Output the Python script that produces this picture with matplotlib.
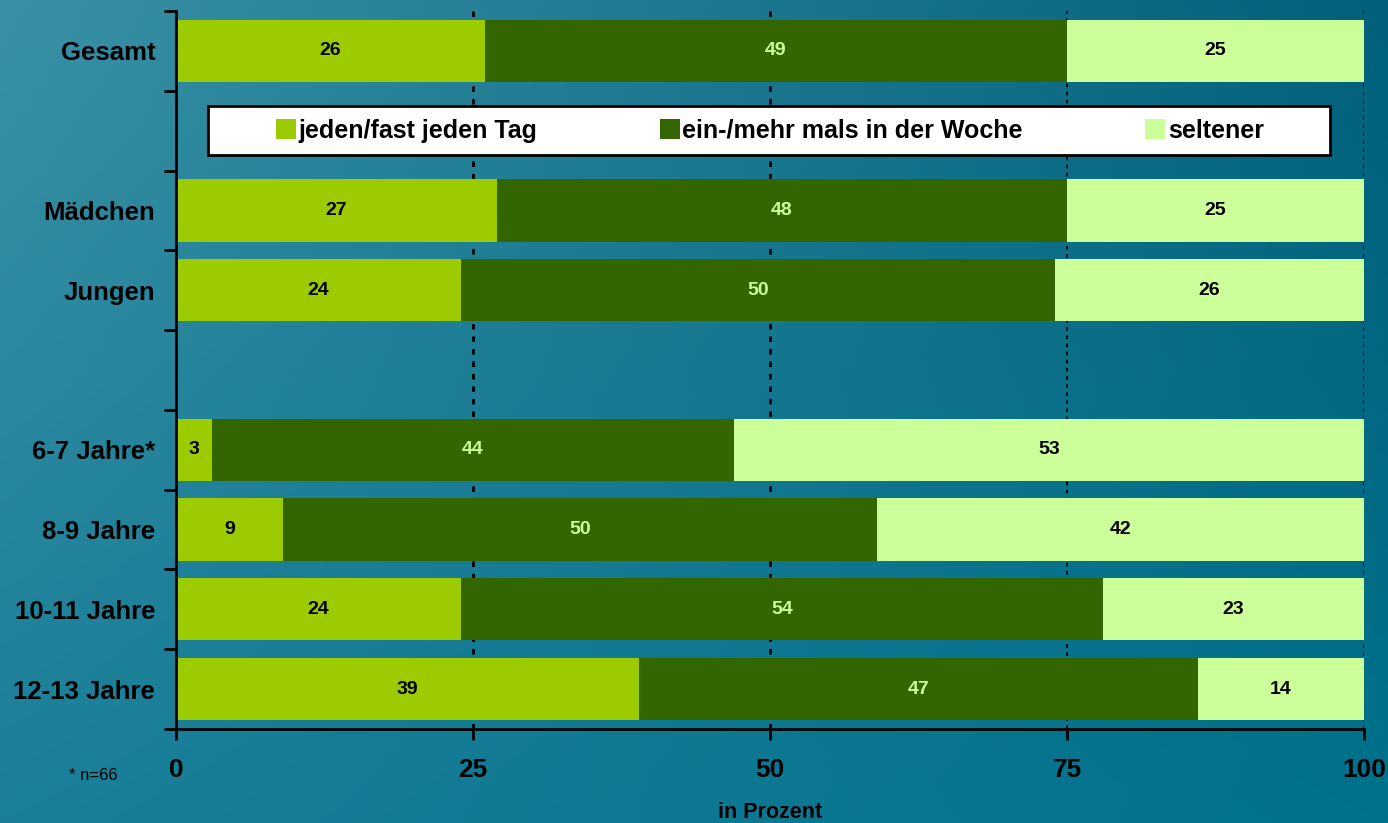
import matplotlib
matplotlib.use("Agg")
import matplotlib.pyplot as plt
from matplotlib.patches import Rectangle
import numpy as np

# data
categories = ["Gesamt", "Mädchen", "Jungen", "6-7 Jahre*", "8-9 Jahre", "10-11 Jahre", "12-13 Jahre"]
series_names = ["jeden/fast jeden Tag", "ein-/mehr mals in der Woche", "seltener"]
daily = [26, 27, 24, 3, 9, 24, 39]
weekly = [49, 48, 50, 44, 50, 54, 47]
rarely = [25, 25, 26, 53, 42, 23, 14]
x_ticks = [0, 25, 50, 75, 100]

colors = ["#9ccc00", "#336600", "#ccff99"]
text_colors = ["black", "#ccff99", "black"]

plt.rcParams['font.family'] = ['Liberation Sans', 'DejaVu Sans']

fig = plt.figure(figsize=(13.88, 8.23), dpi=100)

# background gradient (bilinear between the four corners)
tl = np.array([58, 145, 166]) / 255
tr = np.array([3, 96, 122]) / 255
bl = np.array([26, 127, 152]) / 255
br = np.array([0, 114, 140]) / 255
u = np.linspace(0, 1, 200)[None, :, None]
v = np.linspace(0, 1, 120)[:, None, None]
grad = (1 - v) * ((1 - u) * tl + u * tr) + v * ((1 - u) * bl + u * br)
bg = fig.add_axes([0, 0, 1, 1], zorder=-10)
bg.imshow(grad, aspect='auto', extent=[0, 1, 0, 1], interpolation='bilinear')
bg.axis('off')

ax = fig.add_axes([176 / 1388, 1 - 729 / 823, (1364 - 176) / 1388, (729 - 11) / 823])
ax.patch.set_alpha(0)

# slot layout: Gesamt, legend gap, Mädchen, Jungen, empty gap, four age groups
slots = [0, 2, 3, 5, 6, 7, 8]
n_slots = 9

left = np.zeros(len(categories))
for name, vals, c, tc in zip(series_names, [daily, weekly, rarely], colors, text_colors):
    vals = np.array(vals, dtype=float)
    ax.barh(slots, vals, left=left, height=0.78, color=c, label=name, zorder=3)
    for s, l, w in zip(slots, left, vals):
        xc = l + w / 2
        if l + w > 100:
            xc = l + (100 - l) / 2
        ax.text(xc, s, f"{int(w)}", ha='center', va='center', color=tc,
                fontsize=14, fontweight='bold', zorder=4)
    left = left + vals

ax.set_xlim(0, 100)
ax.set_ylim(n_slots - 0.5, -0.5)

for xv in x_ticks[1:]:
    lw = 2 if xv < 75 else 1.3
    ax.axvline(xv, color='black', linestyle=(0, (2, 2.5)), linewidth=lw, zorder=1)

ax.set_xticks(x_ticks)
ax.set_xticklabels([str(t) for t in x_ticks], fontsize=19, fontweight='bold')
ax.tick_params(axis='x', direction='out', length=8, width=2, pad=13, colors='black')

ax.set_yticks(slots)
ax.set_yticklabels(categories, fontsize=18.5, fontweight='bold')
ax.tick_params(axis='y', which='major', length=0, pad=15)
ax.set_yticks(np.arange(-0.5, n_slots, 1.0), minor=True)
ax.tick_params(axis='y', which='minor', direction='out', length=9, width=2)

for side in ['top', 'right']:
    ax.spines[side].set_visible(False)
for side in ['left', 'bottom']:
    ax.spines[side].set_linewidth(2)
    ax.spines[side].set_zorder(5)

ax.set_xlabel("in Prozent", fontsize=15.5, fontweight='bold', labelpad=14)

# legend box sits in the empty slot below "Gesamt"
ax.add_patch(Rectangle((2.7, 1 - 0.31), 97.1 - 2.7, 0.62, facecolor='white',
                       edgecolor='black', linewidth=2, zorder=6))
leg = ax.legend(loc='center', bbox_to_anchor=(0.5, (n_slots - 0.5 - 1) / n_slots),
                ncol=3, frameon=False,
                prop={'weight': 'bold', 'size': 18},
                handlelength=0.8, handleheight=0.8, handletextpad=0.1,
                columnspacing=4.9, borderpad=0.5, borderaxespad=0)
leg.set_zorder(7)

fig.text(93 / 1388, 1 - 775 / 823, "* n=66", fontsize=12, ha='center', va='center', color='black')

fig.savefig("out.png", dpi=100)
